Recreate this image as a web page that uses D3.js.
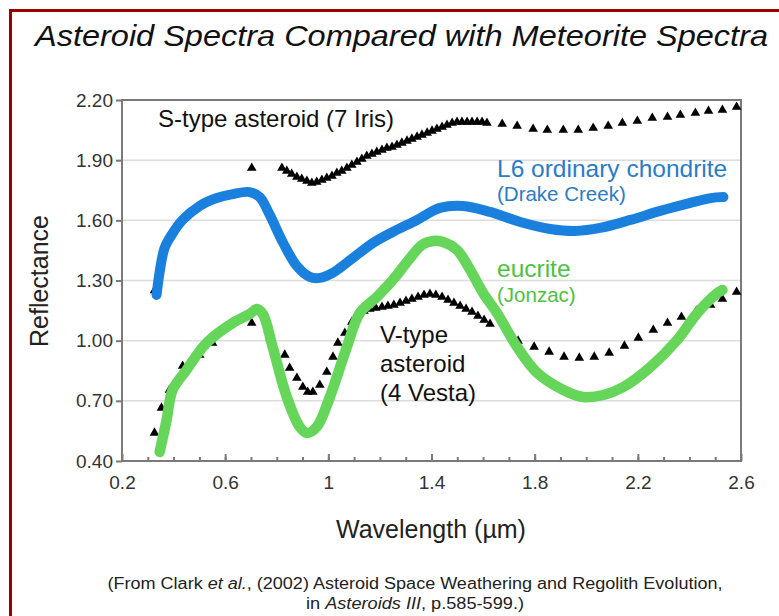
<!DOCTYPE html>
<html lang="en">
<head>
<meta charset="UTF-8" />
<title>Asteroid Spectra Compared with Meteorite Spectra</title>
<script src="https://d3js.org/d3.v7.min.js"></script>
<style>
  body { margin: 0; background: #fff; }
  svg { display: block; font-family: 'Liberation Sans', Arial, sans-serif; }
  .axis path, .axis line { stroke: #7a7a7a; stroke-width: 2; }
  .axis text { fill: #333; font-size: 19px; }
</style>
</head>
<body>
<svg width="779" height="616"></svg>
<script>
// wavelength (µm), reflectance
const iris = [
  [0.703,1.861],
  [0.820,1.861],[0.839,1.846],[0.858,1.831],[0.878,1.816],[0.897,1.806],[0.917,1.796],
  [0.936,1.786],[0.955,1.791],[0.975,1.801],[0.994,1.811],[1.014,1.821],[1.033,1.836],
  [1.052,1.846],[1.072,1.861],[1.091,1.876],[1.111,1.891],[1.130,1.906],[1.149,1.921],
  [1.169,1.931],[1.188,1.941],[1.208,1.951],[1.227,1.961],[1.247,1.966],[1.266,1.976],
  [1.285,1.986],[1.305,1.996],[1.324,2.006],[1.344,2.016],[1.363,2.026],[1.383,2.036],
  [1.402,2.046],[1.421,2.055],[1.441,2.065],[1.460,2.075],[1.480,2.085],[1.499,2.090],
  [1.518,2.090],[1.538,2.090],[1.557,2.090],[1.577,2.090],[1.596,2.090],[1.615,2.085],
  [1.674,2.080],[1.732,2.070],[1.794,2.055],[1.849,2.050],[1.911,2.050],[1.969,2.050],
  [2.027,2.060],[2.085,2.070],[2.140,2.085],[2.198,2.095],[2.256,2.110],[2.315,2.115],
  [2.365,2.125],[2.423,2.135],[2.474,2.145],[2.528,2.150],[2.583,2.165]
];

const vesta = [
  [0.326,1.250],
  [0.326,0.540],[0.353,0.665],[0.384,0.754],[0.435,0.874],[0.501,0.929],[0.551,0.989],
  [0.703,1.088],
  [0.831,0.929],[0.850,0.864],[0.878,0.814],[0.901,0.769],[0.920,0.744],[0.940,0.744],
  [0.967,0.779],[0.994,0.844],[1.018,0.919],[1.037,0.989],[1.064,1.038],[1.091,1.093],
  [1.115,1.128],[1.138,1.148],[1.161,1.158],[1.184,1.163],[1.208,1.168],[1.231,1.173],
  [1.254,1.178],[1.278,1.188],[1.301,1.198],[1.324,1.208],[1.348,1.218],[1.371,1.228],
  [1.394,1.233],[1.417,1.228],[1.441,1.218],[1.464,1.203],[1.487,1.188],[1.511,1.173],
  [1.534,1.158],[1.557,1.143],[1.580,1.123],[1.604,1.103],[1.627,1.083],
  [1.736,0.999],[1.798,0.969],[1.856,0.944],[1.914,0.919],[1.973,0.914],[2.031,0.919],
  [2.089,0.939],[2.148,0.974],[2.202,1.014],[2.260,1.053],[2.315,1.088],[2.369,1.118],
  [2.427,1.148],[2.482,1.178],[2.528,1.208],[2.583,1.243]
];

const drakeCreek = [
  [0.334,1.228],[0.346,1.343],[0.365,1.462],[0.392,1.527],[0.435,1.602],[0.501,1.672],
  [0.567,1.711],[0.629,1.731],[0.695,1.741],[0.734,1.716],[0.773,1.627],[0.823,1.492],
  [0.878,1.372],[0.928,1.318],[0.967,1.313],[1.017,1.338],[1.095,1.412],[1.173,1.487],
  [1.250,1.542],[1.344,1.602],[1.433,1.662],[1.522,1.672],[1.627,1.642],[1.744,1.592],
  [1.860,1.557],[1.957,1.547],[2.054,1.562],[2.171,1.602],[2.287,1.647],[2.404,1.687],
  [2.482,1.711],[2.532,1.716]
];

const jonzac = [
  [0.346,0.445],[0.373,0.605],[0.396,0.754],[0.450,0.854],[0.528,0.989],[0.629,1.088],
  [0.695,1.133],[0.722,1.158],[0.746,1.133],[0.784,0.969],[0.839,0.719],[0.889,0.570],
  [0.917,0.540],[0.955,0.570],[1.006,0.719],[1.072,0.969],[1.122,1.138],[1.188,1.218],
  [1.250,1.303],[1.317,1.412],[1.363,1.477],[1.406,1.497],[1.445,1.492],[1.499,1.452],
  [1.550,1.353],[1.600,1.238],[1.654,1.138],[1.732,0.969],[1.810,0.839],[1.911,0.754],
  [1.988,0.719],[2.066,0.729],[2.144,0.769],[2.249,0.869],[2.353,1.004],[2.431,1.138],
  [2.509,1.238],[2.528,1.253]
];

const xTicks = [0.2, 0.6, 1.0, 1.4, 1.8, 2.2, 2.6];
const yTicks = [0.4, 0.7, 1.0, 1.3, 1.6, 1.9, 2.2];

const svg = d3.select("svg");

// dark red frame
svg.append("rect")
  .attr("x", 10.5).attr("y", 10.5)
  .attr("width", 820).attr("height", 700)
  .attr("fill", "none")
  .attr("stroke", "#9a0000")
  .attr("stroke-width", 3);

const x = d3.scaleLinear().domain([0.2, 2.6]).range([122, 741]);
const y = d3.scaleLinear().domain([0.4, 2.2]).range([461, 100]);

// gridlines
svg.append("g").selectAll("line")
  .data(yTicks.slice(1, -1))
  .join("line")
  .attr("x1", x(0.2)).attr("x2", x(2.6))
  .attr("y1", d => y(d)).attr("y2", d => y(d))
  .attr("stroke", "#dcdcdc")
  .attr("stroke-width", 1.5);

// box
svg.append("rect")
  .attr("x", x(0.2)).attr("y", y(2.2))
  .attr("width", x(2.6) - x(0.2)).attr("height", y(0.4) - y(2.2))
  .attr("fill", "none").attr("stroke", "#7a7a7a").attr("stroke-width", 2);

svg.append("g")
  .attr("class", "axis")
  .attr("transform", `translate(${x(0.2)},0)`)
  .call(d3.axisLeft(y).tickValues(yTicks).tickFormat(d3.format(".2f")).tickSize(6).tickPadding(3))
  .call(g => g.select(".domain").remove());

// minor x ticks, inward
svg.append("g")
  .attr("class", "axis")
  .attr("transform", `translate(0,${y(0.4)})`)
  .call(d3.axisBottom(x).tickValues(d3.range(0.3, 2.6, 0.1)).tickSize(-4).tickFormat(""))
  .call(g => g.select(".domain").remove());

svg.append("g")
  .attr("class", "axis")
  .attr("transform", `translate(0,${y(0.4)})`)
  .call(d3.axisBottom(x).tickValues(xTicks).tickFormat(d3.format("")).tickSize(-7).tickPadding(15))
  .call(g => g.select(".domain").remove());

// triangles
const tri = d3.symbol().type(d3.symbolTriangle).size(40);
[iris, vesta].forEach(s => {
  svg.append("g").selectAll("path")
    .data(s)
    .join("path")
    .attr("d", tri)
    .attr("transform", d => `translate(${x(d[0])},${y(d[1])})`)
    .attr("fill", "#000");
});

const line = d3.line().x(d => x(d[0])).y(d => y(d[1])).curve(d3.curveCatmullRom);

svg.append("path").datum(drakeCreek)
  .attr("d", line).attr("fill", "none")
  .attr("stroke", "#1a80de").attr("stroke-width", 10)
  .attr("stroke-linecap", "round").attr("stroke-linejoin", "round");

svg.append("path").datum(jonzac)
  .attr("d", line).attr("fill", "none")
  .attr("stroke", "#66d65a").attr("stroke-width", 10.5)
  .attr("stroke-linecap", "round").attr("stroke-linejoin", "round");

// texts
svg.append("text")
  .attr("x", 35).attr("y", 46)
  .attr("textLength", 733).attr("lengthAdjust", "spacingAndGlyphs")
  .style("font-size", "30px").style("font-style", "italic").attr("fill", "#111")
  .text("Asteroid Spectra Compared with Meteorite Spectra");

svg.append("text")
  .attr("transform", "translate(48,281) rotate(-90)")
  .attr("text-anchor", "middle")
  .style("font-size", "25px").attr("fill", "#222")
  .text("Reflectance");

svg.append("text")
  .attr("x", 431).attr("y", 538)
  .attr("text-anchor", "middle")
  .style("font-size", "25px").attr("fill", "#222")
  .text("Wavelength (µm)");

const labels = [
  { t: "S-type asteroid (7 Iris)", x: 158, y: 127, s: 24, c: "#111" },
  { t: "L6 ordinary chondrite", x: 497, y: 177, s: 24.5, c: "#2a7cc8" },
  { t: "(Drake Creek)", x: 497, y: 201, s: 20.5, c: "#2a7cc8" },
  { t: "eucrite", x: 497, y: 277, s: 24.5, c: "#4ec23e" },
  { t: "(Jonzac)", x: 497, y: 302, s: 20.5, c: "#4ec23e" },
  { t: "V-type", x: 380, y: 343, s: 24, c: "#111" },
  { t: "asteroid", x: 380, y: 372, s: 24, c: "#111" },
  { t: "(4 Vesta)", x: 380, y: 401, s: 24, c: "#111" }
];
svg.append("g").selectAll("text")
  .data(labels)
  .join("text")
  .attr("x", d => d.x).attr("y", d => d.y)
  .style("font-size", d => d.s + "px")
  .attr("fill", d => d.c)
  .text(d => d.t);

const f1 = svg.append("text")
  .attr("x", 415).attr("y", 589).attr("text-anchor", "middle")
  .attr("textLength", 615).attr("lengthAdjust", "spacingAndGlyphs")
  .style("font-size", "16px").attr("fill", "#222");
f1.append("tspan").text("(From Clark ");
f1.append("tspan").style("font-style", "italic").text("et al.");
f1.append("tspan").text(", (2002) Asteroid Space Weathering and Regolith Evolution,");

const f2 = svg.append("text")
  .attr("x", 415).attr("y", 609).attr("text-anchor", "middle")
  .attr("textLength", 218).attr("lengthAdjust", "spacingAndGlyphs")
  .style("font-size", "16px").attr("fill", "#222");
f2.append("tspan").text("in ");
f2.append("tspan").style("font-style", "italic").text("Asteroids III");
f2.append("tspan").text(", p.585-599.)");
</script>
</body>
</html>
